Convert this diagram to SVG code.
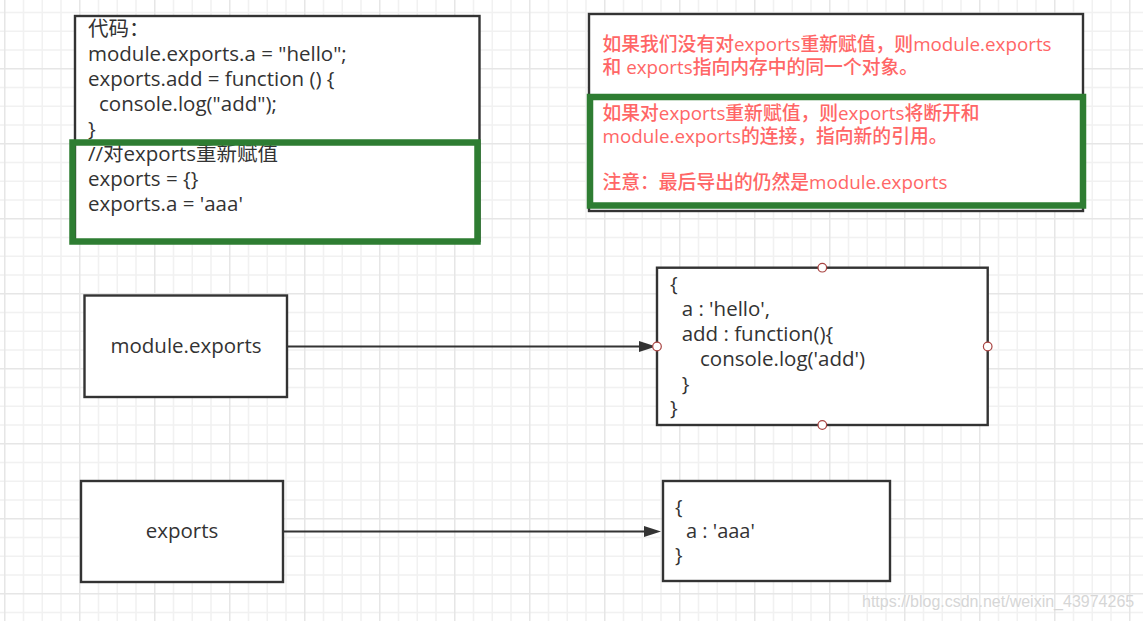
<svg xmlns="http://www.w3.org/2000/svg" width="1143" height="621" viewBox="0 0 1143 621">
  <defs>
    <pattern id="grid" patternUnits="userSpaceOnUse" x="4" y="-7" width="75" height="75">
      <rect x="0" y="0" width="75" height="75" fill="#ffffff"/>
      <rect x="18.75" y="0" width="1.5" height="75" fill="#f1f1f1"/>
      <rect x="37.5" y="0" width="1.5" height="75" fill="#f1f1f1"/>
      <rect x="56.25" y="0" width="1.5" height="75" fill="#f1f1f1"/>
      <rect x="0" y="18.75" width="75" height="1.5" fill="#f1f1f1"/>
      <rect x="0" y="37.5" width="75" height="1.5" fill="#f1f1f1"/>
      <rect x="0" y="56.25" width="75" height="1.5" fill="#f1f1f1"/>
      <rect x="0" y="0" width="1.5" height="75" fill="#e6e6e6"/>
      <rect x="0" y="0" width="75" height="1.5" fill="#e6e6e6"/>
    </pattern>
    <marker id="arrow" markerUnits="userSpaceOnUse" viewBox="0 0 17 11" markerWidth="17" markerHeight="11" refX="7" refY="5.5" orient="auto">
      <path d="M0,0 L17,5.5 L0,11 z" fill="#333333"/>
    </marker>
    <style>
      .box { fill: #ffffff; stroke: #333333; stroke-width: 2.4; }
      .green { fill: none; stroke: #2e7d32; stroke-width: 6.5; }
      .code { font-family: "Open Sans", "Noto Sans CJK SC", sans-serif; font-size: 20.5px; fill: #333333; }
      .obj { font-family: "Open Sans", "Noto Sans CJK SC", sans-serif; font-size: 20px; fill: #333333; }
      .note { font-family: "Open Sans", "Noto Sans CJK SC", sans-serif; font-size: 18.8px; font-weight: 500; fill: #ff6666; }
      .conn { stroke: #333333; stroke-width: 2.2; fill: none; marker-end: url(#arrow); }
      .port { fill: #ffffff; stroke: #a94442; stroke-width: 1.2; }
      .wm { font-family: "Liberation Sans", Arial, sans-serif; font-size: 16px; fill: #d6d6d6; }
    </style>
  </defs>

  <rect x="0" y="0" width="1143" height="621" fill="url(#grid)"/>

  <g id="code-box">
    <rect class="box" x="75" y="16" width="404.5" height="225"/>
    <text class="code">
      <tspan x="88" y="35.5">代码：</tspan>
      <tspan x="88" y="60.5">module.exports.a = "hello";</tspan>
      <tspan x="88" y="85.5">exports.add = function () {</tspan>
      <tspan x="99" y="110.5">console.log("add");</tspan>
      <tspan x="88" y="135.5">}</tspan>
      <tspan x="88" y="160.5">//对exports重新赋值</tspan>
      <tspan x="88" y="185.5">exports = {}</tspan>
      <tspan x="88" y="210.5">exports.a = 'aaa'</tspan>
    </text>
    <rect class="green" x="72.5" y="142.5" width="405" height="99"/>
  </g>

  <g id="note-box">
    <rect class="box" x="589" y="14" width="494" height="197"/>
    <rect class="green" x="590" y="97" width="493" height="108.5"/>
    <text class="note">
      <tspan x="602.5" y="51">如果我们没有对exports重新赋值，则module.exports</tspan>
      <tspan x="602.5" y="74">和 exports指向内存中的同一个对象。</tspan>
    </text>
    <text class="note">
      <tspan x="602.5" y="120">如果对exports重新赋值，则exports将断开和</tspan>
      <tspan x="602.5" y="143">module.exports的连接，指向新的引用。</tspan>
      <tspan x="602.5" y="188.5">注意：最后导出的仍然是module.exports</tspan>
    </text>
  </g>

  <g id="module-exports">
    <rect class="box" x="84.5" y="295.5" width="202.5" height="101.5"/>
    <text class="code" x="186" y="353" text-anchor="middle">module.exports</text>
  </g>

  <g id="exports">
    <rect class="box" x="81" y="481" width="202" height="101"/>
    <text class="code" x="182" y="538" text-anchor="middle">exports</text>
  </g>

  <g id="object-hello">
    <rect class="box" x="657" y="267.7" width="330.7" height="157.3"/>
    <text class="code">
      <tspan x="670" y="291">{</tspan>
      <tspan x="681.7" y="316">a : 'hello',</tspan>
      <tspan x="681.7" y="341">add : function(){</tspan>
      <tspan x="700" y="366">console.log('add')</tspan>
      <tspan x="681.7" y="391">}</tspan>
      <tspan x="670" y="415">}</tspan>
    </text>
  </g>

  <g id="object-aaa">
    <rect class="box" x="663" y="481" width="227" height="100"/>
    <text class="obj">
      <tspan x="675" y="514">{</tspan>
      <tspan x="686" y="538">a : 'aaa'</tspan>
      <tspan x="675" y="562">}</tspan>
    </text>
  </g>

  <g id="connectors">
    <line class="conn" x1="288" y1="346.5" x2="646" y2="346.5"/>
    <line class="conn" x1="284" y1="531.5" x2="651" y2="531.5"/>
  </g>

  <g id="ports">
    <circle class="port" cx="822.3" cy="267.7" r="4.3"/>
    <circle class="port" cx="822.3" cy="425" r="4.3"/>
    <circle class="port" cx="657" cy="346.5" r="4.3"/>
    <circle class="port" cx="987.7" cy="346.5" r="4.3"/>
  </g>

  <text class="wm" x="862" y="607">https://blog.csdn.net/weixin_43974265</text>
</svg>
